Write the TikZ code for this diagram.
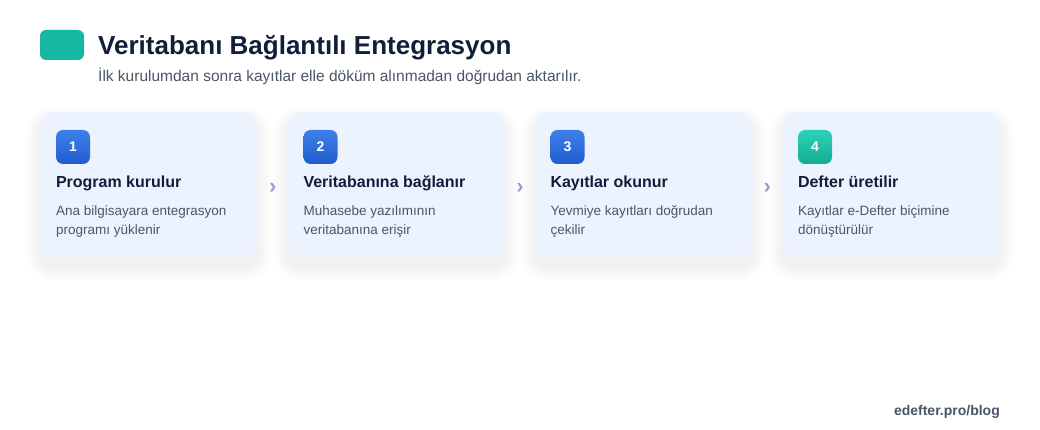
\documentclass[tikz,border=0pt]{standalone}
\usepackage{fontspec}
\setmainfont{Liberation Sans}
\usepackage{tikz}
\usepackage{xcolor}
\usetikzlibrary{positioning,calc,backgrounds}
\definecolor{accentteal}{RGB}{22,184,164}
\definecolor{titlenavy}{RGB}{16,30,58}
\definecolor{subgray}{RGB}{74,85,104}
\definecolor{cardblue}{RGB}{237,243,254}
\definecolor{badgetop}{RGB}{62,128,234}
\definecolor{badgebot}{RGB}{32,92,206}
\definecolor{tealtop}{RGB}{45,210,186}
\definecolor{tealbot}{RGB}{18,172,150}
\definecolor{chevgray}{RGB}{146,162,196}
\definecolor{shadowblue}{RGB}{90,110,160}

\begin{document}
\begin{tikzpicture}[
    x=1pt,y=-1pt,
    card/.style={fill=cardblue,rounded corners=14pt,minimum width=218pt,minimum height=146pt,inner sep=0pt},
    badge/.style={rounded corners=7pt,minimum size=34pt,inner sep=0pt,top color=badgetop,bottom color=badgebot,
        text=white,font=\fontsize{14}{14}\selectfont\bfseries},
    tealbadge/.style={badge,top color=tealtop,bottom color=tealbot},
    steptitle/.style={inner sep=0pt,text height=12pt,text depth=4pt,text=titlenavy,font=\fontsize{16}{16}\selectfont\bfseries},
    stepdesc/.style={inner sep=0pt,align=left,text=subgray,font=\fontsize{13.5}{19}\selectfont},
    chev/.style={inner sep=0pt,yshift=-3pt,text=chevgray,font=\fontsize{22}{22}\selectfont\bfseries}
]
\useasboundingbox (0,0) rectangle (1040,430);

% Header
\node[fill=accentteal,rounded corners=6pt,minimum width=44pt,minimum height=30pt,inner sep=0pt] (mark) at (62,45) {};
\node[anchor=base west,inner sep=0pt,text=titlenavy,font=\fontsize{26}{26}\selectfont\bfseries] (title) at (98,55) {Veritabanı Bağlantılı Entegrasyon};
\node[anchor=base west,inner sep=0pt,text=subgray,font=\fontsize{15.5}{15.5}\selectfont] (subtitle) at (98,82) {İlk kurulumdan sonra kayıtlar elle döküm alınmadan doğrudan aktarılır.};

% Step 1
\node[card] (card1) at (149,185) {};
\node[badge,below right=18pt and 16pt of card1.north west] (num1) {1};
\node[steptitle,below right=11pt and 0pt of num1.south west] (head1) {Program kurulur};
\node[stepdesc,below right=14pt and 0pt of head1.south west] (desc1) {Ana bilgisayara entegrasyon\\programı yüklenir};

% Step 2
\node[card] (card2) at (396.5,185) {};
\node[badge,below right=18pt and 16pt of card2.north west] (num2) {2};
\node[steptitle,below right=11pt and 0pt of num2.south west] (head2) {Veritabanına bağlanır};
\node[stepdesc,below right=14pt and 0pt of head2.south west] (desc2) {Muhasebe yazılımının\\veritabanına erişir};

% Step 3
\node[card] (card3) at (643.5,185) {};
\node[badge,below right=18pt and 16pt of card3.north west] (num3) {3};
\node[steptitle,below right=11pt and 0pt of num3.south west] (head3) {Kayıtlar okunur};
\node[stepdesc,below right=14pt and 0pt of head3.south west] (desc3) {Yevmiye kayıtları doğrudan\\çekilir};

% Step 4
\node[card] (card4) at (891,185) {};
\node[tealbadge,below right=18pt and 16pt of card4.north west] (num4) {4};
\node[steptitle,below right=11pt and 0pt of num4.south west] (head4) {Defter üretilir};
\node[stepdesc,below right=14pt and 0pt of head4.south west] (desc4) {Kayıtlar e-Defter biçimine\\dönüştürülür};

% Chevrons between steps
\path (card1) -- node[chev] (chev1) {›} (card2);
\path (card2) -- node[chev] (chev2) {›} (card3);
\path (card3) -- node[chev] (chev3) {›} (card4);

% Footer
\node[anchor=base east,inner sep=0pt,text=subgray,font=\fontsize{14}{14}\selectfont\bfseries] (footer) at (1000,415) {edefter.pro/blog};

% Soft shadows under the cards
\begin{pgfonlayer}{background}
\fill[white] (0,0) rectangle (1040,430);
\foreach \c in {card1,card2,card3,card4}
  \foreach \r in {1,...,14}
    \fill[shadowblue,opacity=0.0035,rounded corners=14pt+\r pt]
      ($(\c.north west)+(-\r,-\r+9)$) rectangle ($(\c.south east)+(\r,\r+9)$);
\end{pgfonlayer}

\end{tikzpicture}
\end{document}
